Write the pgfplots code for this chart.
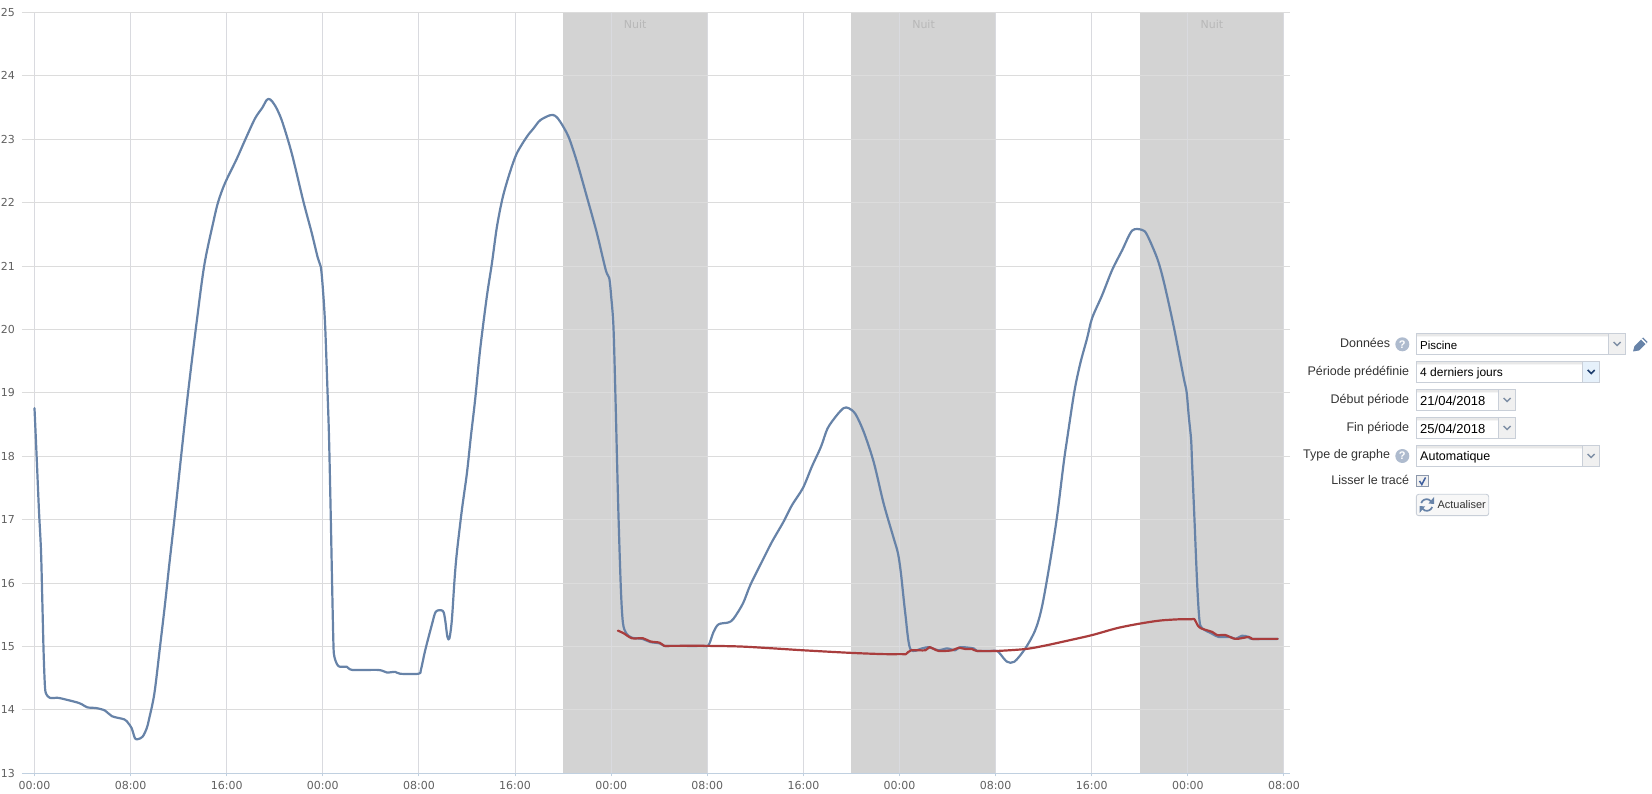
\documentclass[border=0pt]{standalone}
\usepackage{pgfplots}
\pgfplotsset{compat=1.18}
\usepackage{fontspec}
\setmainfont{DejaVu Sans}
\newfontfamily\formfont{Liberation Sans}
\definecolor{bandgray}{HTML}{D3D3D3}
\definecolor{gridh}{HTML}{DCDCDC}
\definecolor{gridv}{HTML}{D9DADF}
\definecolor{axisline}{HTML}{C0D0E0}
\definecolor{ticktext}{HTML}{606060}
\definecolor{nuit}{HTML}{B8B8B8}
\definecolor{bluecurve}{HTML}{6783A8}
\definecolor{redcurve}{HTML}{A93D3D}
\definecolor{fieldborder}{HTML}{C9CFD8}
\definecolor{labeltext}{HTML}{333333}
\definecolor{helpicon}{HTML}{AEBBCE}
\definecolor{chev}{HTML}{7F8FA6}
\definecolor{triggerhover}{HTML}{E6F1FB}
\definecolor{chevdark}{HTML}{1F3F6F}
\definecolor{checkmark}{HTML}{3F5F9F}
\definecolor{checkborder}{HTML}{8C98AC}
\pgfplotsset{common/.style={
  scale only axis, width=1268pt, height=760.8pt,
  at={(22pt,19.7pt)}, anchor=south west,
  xmin=-1.04, xmax=104.5, ymin=13, ymax=25,
  clip=true}}
\newcommand{\fieldbox}[5]{% x0,x1,y0,y1,trigger x
  \fill[white] (#1,#3) rectangle (#2,#4);
  \fill[black!9] (#1+0.5,#3+0.5) rectangle (#2-0.5,#3+2.5);
  \fill[black!4] (#1+0.5,#3+2.5) rectangle (#2-0.5,#3+4);
  \draw[fieldborder,line width=0.9pt] (#1,#3) rectangle (#2,#4);
  \fill[black!6] (#5,#3+0.5) rectangle (#2-0.5,#4-0.5);
  \draw[fieldborder,line width=0.7pt] (#5,#3) -- (#5,#4);
  \draw[chev,line width=1.4pt] ({(#5+#2)/2-3.5},{(#3+#4)/2-2}) -- ({(#5+#2)/2},{(#3+#4)/2+1.5}) -- ({(#5+#2)/2+3.5},{(#3+#4)/2-2});
}
\newcommand{\helpmark}[2]{%
  \fill[helpicon] (#1,#2) circle (7);
  \node[text=white,inner sep=0pt] at (#1,#2) {\formfont\bfseries\fontsize{11}{12}\selectfont ?};
}
\newcommand{\formlabel}[3]{\node[anchor=east,inner sep=0pt,text=labeltext] at (#1,#2) {\formfont\fontsize{12.5}{14}\selectfont #3};}
\newcommand{\formtext}[3]{\node[anchor=west,inner sep=0pt,text=black] at (1420,#1) {\formfont\fontsize{#2}{14}\selectfont #3};}
\begin{document}
\begin{tikzpicture}
\path[use as bounding box] (0,0) rectangle (1652pt,793pt);
% night bands
\begin{axis}[common, hide axis]
\addplot[fill=bandgray,draw=none] coordinates {(44,13)(56,13)(56,25)(44,25)} --cycle;
\addplot[fill=bandgray,draw=none] coordinates {(68,13)(80,13)(80,25)(68,25)} --cycle;
\addplot[fill=bandgray,draw=none] coordinates {(92,13)(104,13)(104,25)(92,25)} --cycle;
\end{axis}
% grid, ticks and curves
\begin{axis}[common,
  axis x line=bottom, axis y line=left,
  x axis line style={-,draw=axisline,line width=1pt},
  y axis line style={draw=none},
  grid=major,
  x grid style={gridv,line width=1pt},
  y grid style={gridh,line width=1pt},
  xtick={0,8,...,104},
  xticklabels={00:00,08:00,16:00,00:00,08:00,16:00,00:00,08:00,16:00,00:00,08:00,16:00,00:00,08:00},
  ytick={13,14,...,25},
  x tick style={draw=axisline,line width=1pt},
  y tick style={draw=none},
  tick align=outside,
  major tick length=3pt,
  /pgf/number format/assume math mode=true,
  tick label style={font=\fontsize{11}{12}\selectfont, text=ticktext},
  yticklabel style={anchor=east,inner sep=0pt,xshift=-4pt},
  xticklabel style={anchor=base,inner sep=0pt,yshift=-13.5pt},
]
\addplot[bluecurve,line width=2.2pt,smooth,tension=0.5,line join=round,line cap=round] coordinates {
(0,18.76)(0.18,17.99)(0.37,17.15)(0.54,16.52)(0.65,15.73)(0.76,14.90)(0.87,14.37)(0.98,14.25)(1.29,14.19)(1.98,14.19)
(2.68,14.16)(3.51,14.12)(3.93,14.09)(4.40,14.04)(5.10,14.03)(5.87,13.99)(6.45,13.90)(7.48,13.85)(7.81,13.79)(8.09,13.71)
(8.37,13.55)(8.64,13.54)(9.01,13.58)(9.34,13.71)(9.53,13.85)(9.98,14.26)(10.45,15.0)(10.87,15.68)(11.2,16.26)(11.7,17.10)
(12.26,18.10)(12.78,19.0)(13.42,20.0)(14.12,21.0)(14.89,21.70)(15.3,22.02)(15.86,22.31)(16.83,22.69)
(17.53,22.99)(18.36,23.33)(18.97,23.50)(19.33,23.62)(19.61,23.63)(20.03,23.53)(20.58,23.30)(21.41,22.78)(22.38,22.02)(23.08,21.52)
(23.58,21.13)(23.83,20.99)(24.0,20.65)(24.19,20.07)(24.41,18.91)(24.52,18.26)(24.66,17.05)(24.77,16.0)(24.88,15.05)(24.96,14.84)
(25.3,14.69)(26.0,14.68)(26.46,14.63)(28.63,14.63)(29.33,14.59)(30.02,14.60)(30.43,14.57)(31.96,14.57)(32.16,14.63)(32.52,14.94)
(33.07,15.34)(33.41,15.55)(33.99,15.56)(34.18,15.42)(34.37,15.15)(34.54,15.13)(34.74,15.42)(34.96,16.05)(35.15,16.47)(35.57,17.15)
(35.99,17.73)(36.32,18.31)(36.68,18.90)(37.09,19.68)(37.65,20.52)(38.07,21.04)(38.49,21.62)(38.98,22.09)(39.59,22.49)(40.15,22.78)
(40.98,23.04)(41.53,23.17)(42.09,23.30)(42.92,23.38)(43.34,23.37)(43.75,23.28)(44.45,23.04)(45.14,22.65)(45.98,22.09)(46.81,21.52)
(47.56,20.93)(47.84,20.81)(48.0,20.52)(48.19,20.04)(48.36,18.91)(48.48,17.99)(48.61,17.05)(48.81,15.89)(48.98,15.37)(49.25,15.21)
(49.7,15.14)(50.6,15.12)(51.25,15.07)(52.03,15.05)(52.42,15.01)(53,15.01)(55.6,15.01)(56.1,15.02)(56.52,15.23)(56.94,15.35)(57.77,15.38)(58.19,15.44)
(58.97,15.68)(59.58,15.97)(60.55,16.34)(61.38,16.65)(62.35,16.97)(63.05,17.23)(63.96,17.50)(64.71,17.84)(65.46,18.15)(66.01,18.44)
(66.79,18.65)(67.35,18.76)(67.76,18.76)(68.32,18.67)(69.01,18.39)(69.85,17.91)(70.67,17.26)(71.51,16.71)(71.87,16.47)(72.12,16.15)
(72.48,15.52)(72.9,14.96)(73.87,14.97)(74.42,14.99)(75.26,14.94)(75.95,14.97)(76.64,14.94)(77.06,14.99)(78.17,14.97)(78.45,14.93)
(79.6,14.93)(80.12,14.93)(80.39,14.88)(80.95,14.76)(81.56,14.76)(82.47,14.97)(83.3,15.26)(83.86,15.63)(84.55,16.36)(85.11,17.05)(85.66,17.89)
(85.94,18.26)(86.55,19.02)(87.05,19.47)(87.61,19.86)(88.03,20.18)(88.86,20.54)(89.7,20.94)(90.53,21.25)(91.36,21.56)(92.2,21.57)
(92.61,21.49)(93.45,21.12)(94,20.75)(94.83,20.04)(95.66,19.23)(95.89,19.02)(96.08,18.62)(96.27,18.26)(96.35,17.89)(96.55,17.0)
(96.77,16.0)(96.96,15.42)(97.18,15.29)(98.02,15.2)(98.57,15.15)(99.54,15.15)(99.96,15.12)(100.52,15.17)(101.07,15.15)(101.35,15.12)(103.48,15.12)
};
\addplot[redcurve,line width=2.2pt,smooth,tension=0.5,line join=round,line cap=round] coordinates {
(48.56,15.25)(49.03,15.21)(49.73,15.13)(50.64,15.13)(51.25,15.08)(52.03,15.06)(52.42,15.01)(53,15.01)(55.97,15.01)(58.74,15.0)(61.52,14.97)
(64.01,14.94)(67.9,14.90)(70.67,14.88)(72.2,14.88)(72.54,14.88)(72.96,14.94)(74.15,14.94)(74.5,14.99)(75.26,14.93)(76.37,14.94)(76.92,14.98)
(77.48,14.96)(78.04,14.96)(78.45,14.93)(80.12,14.93)(82.47,14.96)(84,15.01)(85.94,15.09)(88.03,15.18)(90.11,15.29)(91.97,15.36)
(93.72,15.41)(95.38,15.43)(96.3,15.43)(96.55,15.43)(96.77,15.35)(97.05,15.29)(98.02,15.23)(98.44,15.18)(99.13,15.18)(99.96,15.12)(101.07,15.15)
(101.35,15.12)(102,15.12)(103.48,15.12)
};
\node[text=nuit,inner sep=0pt,font=\fontsize{11}{12}\selectfont] at (axis cs:50,24.82) {Nuit};
\node[text=nuit,inner sep=0pt,font=\fontsize{11}{12}\selectfont] at (axis cs:74,24.82) {Nuit};
\node[text=nuit,inner sep=0pt,font=\fontsize{11}{12}\selectfont] at (axis cs:98,24.82) {Nuit};
\end{axis}
% form panel, in pixel coordinates measured from the top left corner
\begin{scope}[x=1pt,y=-1pt,yshift=793pt]
\formlabel{1390.3}{342.7}{Données}
\helpmark{1402.3}{344.3}
\fieldbox{1416.3}{1625.7}{333.3}{354.7}{1608.7}
\formtext{345.3}{11.5}{Piscine}
% pencil
\fill[bluecurve] (1633,351.5) -- (1634.5,346) -- (1643,337.5) -- (1647.5,342) -- (1639,350.5) -- cycle;
\fill[white] (1641,339.5) -- (1642,338.5) -- (1646.5,343) -- (1645.5,344) -- cycle;
\formlabel{1409.3}{371.7}{Période prédéfinie}
\fieldbox{1416.3}{1599.7}{361.3}{382.7}{1582.7}
\fill[triggerhover] (1583.2,361.8) rectangle (1599.2,382.2);
\draw[chevdark,line width=1.5pt] (1587.7,370) -- (1591.2,373.5) -- (1594.7,370);
\formtext{373.3}{12}{4 derniers jours}
\formlabel{1409.3}{400}{Début période}
\fieldbox{1416.3}{1515.7}{389.3}{410.7}{1498.7}
\formtext{401.3}{13}{21/04/2018}
\formlabel{1409.3}{427.7}{Fin période}
\fieldbox{1416.3}{1515.7}{417.3}{438.7}{1498.7}
\formtext{429.3}{13}{25/04/2018}
\formlabel{1390.3}{455}{Type de graphe}
\helpmark{1402.3}{456}
\fieldbox{1416.3}{1599.7}{445.3}{466.7}{1582.7}
\formtext{457.3}{12.5}{Automatique}
\formlabel{1409.3}{480}{Lisser le tracé}
\fill[black!6] (1416.8,475.5) rectangle (1428.2,486.5);
\draw[checkborder,line width=0.9pt] (1416.8,475.5) rectangle (1428.2,486.5);
\draw[checkmark,line width=1.5pt] (1419.5,481) -- (1421.8,484.5) -- (1425.5,477.5);
\draw[fieldborder,fill=black!3,line width=0.9pt,rounded corners=2.5pt] (1416.3,494.3) rectangle (1488.7,515.7);
\draw[bluecurve,line width=1.7pt] (1421.2,503) arc[start angle=200,end angle=325,radius=5.8];
\fill[bluecurve] (1434,497) -- (1434,504) -- (1428.5,503.5) -- cycle;
\draw[bluecurve,line width=1.7pt] (1432.2,507) arc[start angle=20,end angle=145,radius=5.8];
\fill[bluecurve] (1419.5,513) -- (1419.5,506) -- (1425,506.5) -- cycle;
\node[anchor=west,inner sep=0pt,text=labeltext] at (1437.3,504.3) {\formfont\fontsize{11}{13}\selectfont Actualiser};
\end{scope}
\end{tikzpicture}
\end{document}
